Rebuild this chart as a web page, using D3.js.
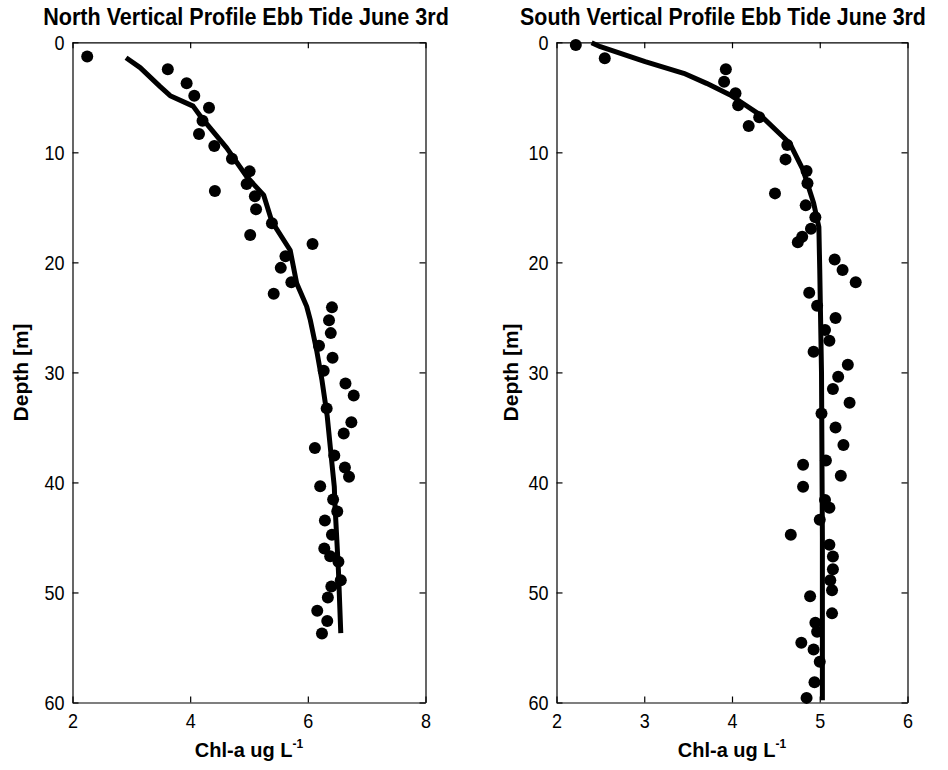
<!DOCTYPE html>
<html>
<head>
<meta charset="utf-8">
<script src="https://cdn.jsdelivr.net/npm/d3@7"></script>
<style>
body { margin: 0; background: #fff; }
svg text { font-family: "Liberation Sans", Arial, Helvetica, sans-serif; fill: #000; }
</style>
</head>
<body>
<svg id="chart" width="948" height="770"></svg>
<script>
'use strict';

// depth ticks shared by both panels
var depthTicks = [0, 10, 20, 30, 40, 50, 60];

// North profile: measured points
var northChl = [2.25, 3.62, 3.94, 4.07, 4.32, 4.21, 4.15, 4.41, 4.71, 5.01, 4.96, 4.42, 5.10, 5.12, 5.39, 5.02, 6.08, 5.62, 5.54, 5.72,
    5.42, 6.41, 6.36, 6.39, 6.19, 6.42, 6.27, 6.64, 6.78, 6.32, 6.74, 6.61, 6.12, 6.45, 6.63, 6.70, 6.21, 6.43, 6.50, 6.29,
    6.41, 6.28, 6.38, 6.52, 6.56, 6.40, 6.34, 6.16, 6.33, 6.24];
var northDepth = [1.3, 2.45, 3.73, 4.85, 5.94, 7.13, 8.34, 9.43, 10.58, 11.73, 12.88, 13.52, 14.0, 15.18, 16.45, 17.52, 18.34, 19.45, 20.5, 21.8,
    22.85, 24.09, 25.25, 26.43, 27.58, 28.67, 29.85, 31.0, 32.1, 33.27, 34.52, 35.55, 36.88, 37.55, 38.64, 39.49, 40.34, 41.55, 42.64, 43.45,
    44.76, 46.0, 46.7, 47.2, 48.9, 49.45, 50.45, 51.67, 52.6, 53.73];

// North profile: fitted curve
var northFitChl = [2.91, 3.15, 3.49, 3.66, 4.05, 4.20, 4.62, 4.96, 5.25, 5.39, 5.70, 5.81, 5.98, 6.04, 6.15, 6.24, 6.33, 6.41, 6.45, 6.46, 6.52, 6.56];
var northFitDepth = [1.4, 2.3, 4.03, 4.85, 5.8, 6.9, 9.6, 12.2, 13.9, 16.3, 18.9, 21.9, 24.0, 25.2, 28.0, 30.7, 34.0, 38.3, 40.4, 41.9, 48.0, 53.7];
var northXTicks = [2, 4, 6, 8];

// South profile: measured points
var southChl = [2.22, 2.55, 3.93, 3.91, 4.04, 4.07, 4.31, 4.19, 4.63, 4.61, 4.85, 4.86, 4.49, 4.84, 4.95, 4.90, 4.80, 4.75, 5.17, 5.26,
    5.41, 4.88, 4.97, 5.18, 5.06, 5.11, 4.93, 5.32, 5.21, 5.15, 5.34, 5.02, 5.18, 5.27, 5.07, 4.81, 5.24, 4.81, 5.06, 5.11,
    5.00, 4.67, 5.11, 5.15, 5.15, 5.12, 5.14, 4.89, 5.14, 4.95, 4.97, 4.79, 4.93, 5.00, 4.94, 4.85];
var southDepth = [0.25, 1.46, 2.45, 3.58, 4.64, 5.73, 6.82, 7.61, 9.34, 10.64, 11.7, 12.82, 13.73, 14.82, 15.91, 16.94, 17.67, 18.18, 19.73, 20.7,
    21.8, 22.76, 23.94, 25.06, 26.15, 27.13, 28.13, 29.3, 30.4, 31.5, 32.76, 33.73, 35.0, 36.6, 38.0, 38.4, 39.4, 40.4, 41.6, 42.3,
    43.4, 44.76, 45.67, 46.73, 47.88, 48.88, 49.8, 50.34, 51.9, 52.76, 53.58, 54.58, 55.18, 56.3, 58.15, 59.58];

// South profile: fitted curve
var southFitChl = [2.40, 2.50, 3.01, 3.45, 3.71, 3.98, 4.32, 4.66, 4.81, 4.93, 4.99, 5.00, 5.02, 5.03, 5.03];
var southFitDepth = [0.04, 0.4, 1.76, 2.82, 3.73, 4.79, 6.6, 9.2, 11.6, 14.6, 16.8, 20.7, 30, 45, 59.8];
var southXTicks = [2, 3, 4, 5, 6];

var svg = d3.select('#chart');

// the original uses a narrow face, so squeeze text sideways with a scale
function narrowText(parent, x, y, w, anchor) {
    var holder = parent.append('g').attr('transform', 'translate(' + x + ',' + y + ')');
    var t = holder.append('text').attr('text-anchor', anchor || 'middle');
    return {
        text: t,
        fit: function () {
            var k = Math.min(1, w / t.node().getComputedTextLength());
            holder.attr('transform', 'translate(' + x + ',' + y + ') scale(' + k + ',1)');
        }
    };
}

function drawPanel(cfg) {
    var x = d3.scaleLinear().domain([cfg.xTicks[0], cfg.xTicks[cfg.xTicks.length - 1]]).range([cfg.left, cfg.right]);
    var y = d3.scaleLinear().domain([0, 60]).range([42.3, 702.5]);
    var g = svg.append('g');

    var axes = [
        { a: d3.axisBottom(x).tickValues(cfg.xTicks).tickFormat(d3.format('d')).tickPadding(11), t: 'translate(0,' + y(60) + ')' },
        { a: d3.axisLeft(y).tickValues(depthTicks).tickFormat(d3.format('d')).tickPadding(8), t: 'translate(' + cfg.left + ',0)' },
        { a: d3.axisTop(x).tickValues(cfg.xTicks).tickFormat(''), t: 'translate(0,' + y(0) + ')' },
        { a: d3.axisRight(y).tickValues(depthTicks).tickFormat(''), t: 'translate(' + cfg.right + ',0)' }
    ];
    axes.forEach(function (ax) {
        var ag = g.append('g')
            .attr('transform', ax.t)
            .call(ax.a.tickSize(-6).tickSizeOuter(0));
        ag.attr('font-family', null).attr('font-size', 21);
        ag.selectAll('path, line').attr('stroke', '#000').attr('stroke-width', 1.2);
        ag.selectAll('text').each(function () {
            var len = this.getComputedTextLength();
            var w = 10 * this.textContent.length;
            if (len > w) {
                d3.select(this).attr('textLength', w).attr('lengthAdjust', 'spacingAndGlyphs');
            }
        });
    });

    var line = d3.line()
        .x(function (d) { return x(d[0]); })
        .y(function (d) { return y(d[1]); });

    g.append('path')
        .datum(d3.zip(cfg.fitChl, cfg.fitDepth))
        .attr('d', line)
        .attr('fill', 'none')
        .attr('stroke', '#000')
        .attr('stroke-width', 5)
        .attr('stroke-linejoin', 'round');

    g.selectAll('circle')
        .data(d3.zip(cfg.chl, cfg.depth))
        .enter()
        .append('circle')
        .attr('cx', function (d) { return x(d[0]); })
        .attr('cy', function (d) { return y(d[1]); })
        .attr('r', 6)
        .attr('fill', '#000');

    var title = narrowText(g, cfg.titleX, 25, 406);
    title.text
        .attr('font-size', 24)
        .attr('font-weight', 'bold')
        .text(cfg.title);
    title.fit();

    g.append('text')
        .attr('transform', 'translate(' + cfg.ylabelX + ',' + y(30) + ') rotate(-90)')
        .attr('text-anchor', 'middle')
        .attr('dy', '0.35em')
        .attr('font-size', 21)
        .attr('font-weight', 'bold')
        .text('Depth [m]');

    var xl = g.append('text')
        .attr('x', (cfg.left + cfg.right) / 2)
        .attr('y', 757)
        .attr('text-anchor', 'middle')
        .attr('font-size', 20)
        .attr('font-weight', 'bold');
    xl.append('tspan').text('Chl-a ug L');
    xl.append('tspan').attr('font-size', 12).attr('dy', -9).text('-1');
}

drawPanel({
    title: 'North Vertical Profile Ebb Tide June 3rd',
    left: 72.5, right: 425.5, titleX: 246, ylabelX: 21,
    xTicks: northXTicks,
    chl: northChl, depth: northDepth,
    fitChl: northFitChl, fitDepth: northFitDepth
});

drawPanel({
    title: 'South Vertical Profile Ebb Tide June 3rd',
    left: 556.5, right: 907.5, titleX: 723, ylabelX: 511,
    xTicks: southXTicks,
    chl: southChl, depth: southDepth,
    fitChl: southFitChl, fitDepth: southFitDepth
});
</script>
</body>
</html>
